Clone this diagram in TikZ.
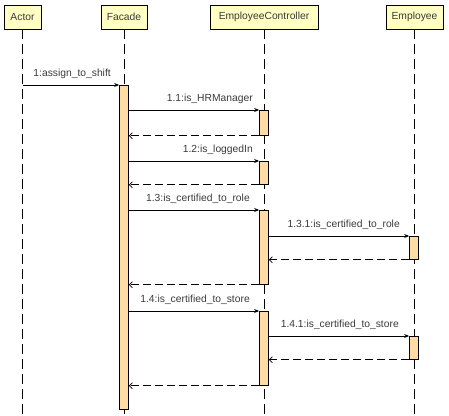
\documentclass[tikz,border=0pt]{standalone}
\usepackage{fontspec}
\setmainfont{Liberation Sans}
\usetikzlibrary{arrows.meta,positioning}
\definecolor{headfill}{HTML}{FFFFC4}
\definecolor{actfill}{HTML}{FFDCA3}
\definecolor{txt}{HTML}{3A3A3A}

\begin{document}
\begin{tikzpicture}[x=1pt,y=-1pt,line width=0.75pt,
  font=\fontsize{10.3}{12}\selectfont,text=txt,
  head/.style={draw,fill=headfill,minimum height=24pt,inner sep=0pt},
  act/.style={draw,fill=actfill,minimum width=9pt,inner sep=0pt,anchor=north},
  life/.style={dash pattern=on 10pt off 5pt},
  call/.style={-{Stealth[length=5pt,width=4pt]}},
  reply/.style={dash pattern=on 8pt off 4pt,-{Straight Barb[length=3pt,width=6pt]}},
  msg/.style={anchor=base east,inner sep=0pt}]
				            \useasboundingbox (0,0) rectangle (449,415);
				            % lifeline heads
				            \node[head,minimum width=37pt] (actor) at (22.5,17) {Actor};
				            \node[head,minimum width=46pt] (facade) at (124,17) {Facade};
				            \node[head,minimum width=108pt] (ctrl) at (264,17) {EmployeeController};
				            \node[head,minimum width=57pt] (empl) at (414.5,17) {Employee};
				            \foreach \n in {actor,facade,ctrl,empl}
				              \draw[life] (\n.south) -- (\n.south |- 0,415);
				            % activations
				            \node[act,minimum height=324pt] (fa) at (124,85) {};
				            \node[act,minimum height=25pt] (c1) at (264,110) {};
				            \node[act,minimum height=23pt] (c2) at (264,161) {};
				            \node[act,minimum height=74pt] (c3) at (264,210) {};
				            \node[act,minimum height=74pt] (c4) at (264,311) {};
				            \node[act,minimum height=23pt] (e1) at (414,236) {};
				            \node[act,minimum height=23pt] (e2) at (414,336) {};
				            % messages
				            \draw[call] (actor |- fa.north) -- (fa.north west)
				              node[msg] at ([xshift=-8pt,yshift=8.5pt]fa.north west) {1:assign\_to\_shift};
				            \draw[call] (fa.east |- c1.north) -- (c1.north west)
				              node[msg] at ([xshift=-6pt,yshift=8.5pt]c1.north west) {1.1:is\_HRManager};
				            \draw[reply] (c1.south west) -- (fa.east |- c1.south);
				            \draw[call] (fa.east |- c2.north) -- (c2.north west)
				              node[msg] at ([xshift=-6pt,yshift=8.5pt]c2.north west) {1.2:is\_loggedIn};
				            \draw[reply] (c2.south west) -- (fa.east |- c2.south);
				            \draw[call] (fa.east |- c3.north) -- (c3.north west)
				              node[msg] at ([xshift=-9pt,yshift=8.5pt]c3.north west) {1.3:is\_certified\_to\_role};
				            \draw[call] (c3.east |- e1.north) -- (e1.north west)
				              node[msg] at ([xshift=-9pt,yshift=8.5pt]e1.north west) {1.3.1:is\_certified\_to\_role};
				            \draw[reply] (e1.south west) -- (c3.east |- e1.south);
				            \draw[reply] (c3.south west) -- (fa.east |- c3.south);
				            \draw[call] (fa.east |- c4.north) -- (c4.north west)
				              node[msg] at ([xshift=-9pt,yshift=8.5pt]c4.north west) {1.4:is\_certified\_to\_store};
				            \draw[call] (c4.east |- e2.north) -- (e2.north west)
				              node[msg] at ([xshift=-10pt,yshift=8.5pt]e2.north west) {1.4.1:is\_certified\_to\_store};
				            \draw[reply] (e2.south west) -- (c4.east |- e2.south);
				            \draw[reply] (c4.south west) -- (fa.east |- c4.south);
			            \end{tikzpicture}
\end{document}
